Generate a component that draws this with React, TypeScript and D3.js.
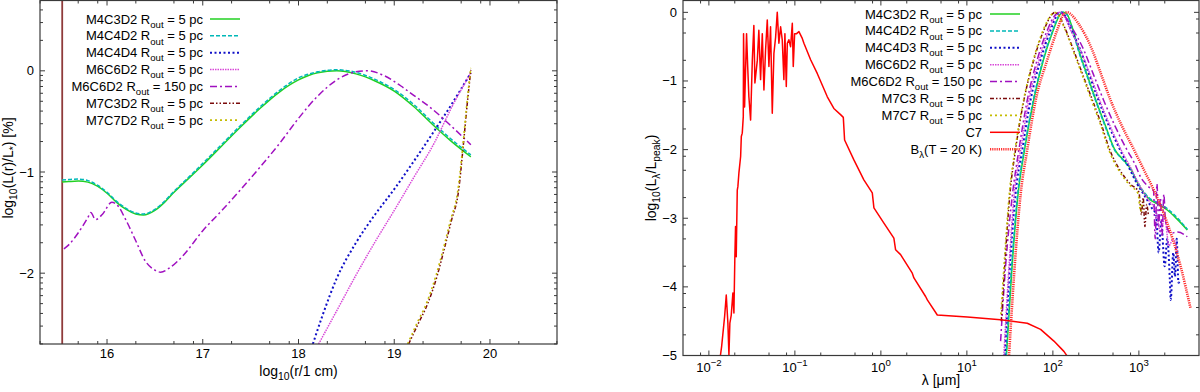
import { useEffect, useRef } from "react"
import * as d3 from "d3"

type Pt = [number, number]

// ---------- left panel: [log10(r/1 cm), log10(L(r)/L*)] ----------
const leftInnerEdge: Pt[] = [[15.532, -2.7], [15.532, 0.7]]

const leftM4C3D2: Pt[] = [
  [15.53, -1.1], [15.6, -1.095], [15.7, -1.09], [15.8, -1.1], [15.9, -1.14], [16.0, -1.21],
  [16.1, -1.3], [16.2, -1.37], [16.3, -1.415], [16.38, -1.425], [16.5, -1.38], [16.6, -1.3],
  [16.7, -1.2], [16.8, -1.11], [17.0, -0.93], [17.2, -0.74], [17.4, -0.55], [17.6, -0.37],
  [17.8, -0.21], [18.0, -0.09], [18.2, -0.02], [18.4, 0.0], [18.6, -0.03], [18.8, -0.1],
  [19.0, -0.2], [19.2, -0.35], [19.4, -0.53], [19.6, -0.7], [19.8, -0.85],
]
const leftM4C4D2: Pt[] = [
  [15.53, -1.08], [15.6, -1.075], [15.7, -1.07], [15.8, -1.085], [15.9, -1.13], [16.0, -1.2],
  [16.1, -1.29], [16.2, -1.36], [16.3, -1.405], [16.38, -1.415], [16.5, -1.37], [16.6, -1.29],
  [16.7, -1.19], [16.8, -1.1], [17.0, -0.915], [17.2, -0.725], [17.4, -0.535], [17.6, -0.355],
  [17.8, -0.195], [18.0, -0.07], [18.2, -0.01], [18.4, 0.01], [18.6, -0.015], [18.8, -0.085],
  [19.0, -0.185], [19.2, -0.33], [19.4, -0.51], [19.6, -0.68], [19.8, -0.83],
]
const leftM4C4D4: Pt[] = [
  [18.15, -2.7], [18.25, -2.42], [18.4, -2.05], [18.6, -1.7], [18.8, -1.42], [19.0, -1.17],
  [19.2, -0.9], [19.4, -0.62], [19.6, -0.33], [19.8, -0.02],
]
const leftM6C6D2: Pt[] = [
  [18.21, -2.7], [18.4, -2.37], [18.6, -2.02], [18.8, -1.69], [19.0, -1.38], [19.2, -1.06],
  [19.42, -0.71], [19.6, -0.36], [19.8, -0.02],
]
const leftM6C6D2far: Pt[] = [
  [15.55, -1.76], [15.6, -1.72], [15.7, -1.6], [15.8, -1.45], [15.83, -1.4], [15.88, -1.47],
  [15.95, -1.42], [16.05, -1.3], [16.1, -1.32], [16.2, -1.48], [16.3, -1.68], [16.4, -1.88],
  [16.5, -1.97], [16.56, -1.99], [16.65, -1.95], [16.8, -1.82], [17.0, -1.58], [17.2, -1.38],
  [17.4, -1.17], [17.6, -0.95], [17.8, -0.72], [18.0, -0.47], [18.2, -0.25], [18.4, -0.09],
  [18.6, -0.01], [18.72, 0.0], [18.9, -0.05], [19.07, -0.15], [19.2, -0.24], [19.4, -0.38],
  [19.6, -0.55], [19.8, -0.73],
]
const leftM7C3D2: Pt[] = [
  [19.15, -2.7], [19.25, -2.5], [19.35, -2.3], [19.45, -2.02], [19.52, -1.77], [19.6, -1.47],
  [19.67, -1.2], [19.72, -0.75], [19.76, -0.35], [19.8, 0.01],
]
const leftM7C7D2: Pt[] = [
  [19.14, -2.7], [19.24, -2.49], [19.34, -2.29], [19.44, -2.01], [19.51, -1.77], [19.59, -1.47],
  [19.66, -1.21], [19.715, -0.76], [19.755, -0.36], [19.8, 0.03],
]

// ---------- right panel: [log10(λ/µm), log10(Lλ/Lpeak)] ----------
const rightM4C3D2: Pt[] = [
  [1.46, -5.0], [1.52, -3.8], [1.595, -2.65], [1.671, -2.0], [1.776, -1.28], [1.89, -0.69],
  [2.004, -0.26], [2.09, -0.02], [2.12, 0.0], [2.16, -0.02], [2.22, -0.2], [2.3, -0.55],
  [2.4, -0.92], [2.5, -1.28], [2.61, -1.65], [2.72, -2.0], [2.82, -2.15], [2.9, -2.27],
  [3.0, -2.52], [3.12, -2.72], [3.23, -2.8], [3.33, -2.88], [3.45, -3.02], [3.563, -3.17],
]
const rightM4C4D2: Pt[] = [
  [1.455, -5.0], [1.515, -3.8], [1.59, -2.65], [1.667, -2.0], [1.772, -1.28], [1.886, -0.69],
  [2.0, -0.26], [2.085, -0.02], [2.115, 0.0], [2.155, -0.02], [2.215, -0.2], [2.295, -0.55],
  [2.395, -0.92], [2.495, -1.28], [2.605, -1.65], [2.715, -2.0], [2.815, -2.15], [2.895, -2.27],
  [2.995, -2.5], [3.115, -2.7], [3.225, -2.78], [3.33, -2.86], [3.45, -3.0], [3.563, -3.16],
]
const rightM4C4D3: Pt[] = [
  [1.44, -5.0], [1.5, -3.7], [1.565, -2.65], [1.644, -2.0], [1.74, -1.28], [1.857, -0.69],
  [1.973, -0.26], [2.06, -0.02], [2.09, 0.0], [2.13, -0.03], [2.2, -0.22], [2.32, -0.55],
  [2.42, -0.9], [2.53, -1.28], [2.65, -1.65], [2.78, -2.0], [2.88, -2.25], [2.98, -2.5],
  [3.08, -2.7], [3.15, -2.85], [3.2, -2.95], [3.23, -3.5], [3.26, -3.05], [3.3, -3.7],
  [3.33, -3.3], [3.36, -3.9], [3.37, -4.19], [3.4, -3.5], [3.42, -3.85], [3.44, -3.3],
  [3.46, -3.94], [3.48, -3.9],
]
const rightM6C6D2: Pt[] = [
  [1.43, -5.0], [1.49, -3.7], [1.55, -2.65], [1.625, -2.0], [1.72, -1.28], [1.84, -0.69],
  [1.955, -0.26], [2.05, -0.02], [2.08, 0.0], [2.12, -0.03], [2.2, -0.24], [2.33, -0.58],
  [2.44, -0.93], [2.55, -1.3], [2.67, -1.67], [2.8, -2.02], [2.92, -2.3], [3.02, -2.55],
  [3.12, -2.75], [3.2, -2.9], [3.25, -3.2], [3.3, -3.0], [3.35, -3.4], [3.4, -3.3], [3.45, -3.5],
]
const rightM6C6D2far: Pt[] = [
  [1.392, -4.79], [1.45, -3.7], [1.53, -2.65], [1.605, -2.0], [1.702, -1.28], [1.818, -0.69],
  [1.935, -0.26], [2.04, -0.02], [2.07, 0.0], [2.12, -0.03], [2.22, -0.22], [2.36, -0.55],
  [2.47, -0.9], [2.59, -1.28], [2.72, -1.65], [2.86, -2.0], [2.95, -2.2], [3.02, -2.4],
  [3.12, -2.55], [3.17, -2.6], [3.19, -3.3], [3.21, -2.5], [3.23, -3.1], [3.25, -2.7],
  [3.27, -3.25], [3.29, -2.65], [3.31, -3.05], [3.37, -3.22], [3.45, -3.2], [3.563, -3.27],
]
const rightM7C3: Pt[] = [
  [1.4, -4.5], [1.45, -3.5], [1.5, -2.65], [1.566, -2.0], [1.663, -1.28], [1.779, -0.69],
  [1.895, -0.26], [1.99, -0.03], [2.02, 0.0], [2.06, -0.03], [2.13, -0.2], [2.24, -0.55],
  [2.36, -0.95], [2.46, -1.28], [2.56, -1.62], [2.66, -2.0], [2.78, -2.3], [2.9, -2.5],
  [3.0, -2.62], [3.03, -2.95], [3.05, -2.7], [3.07, -3.12], [3.09, -2.8], [3.11, -2.95],
]
const rightM7C7: Pt[] = [
  [1.395, -4.4], [1.445, -3.45], [1.495, -2.62], [1.562, -1.98], [1.66, -1.27], [1.775, -0.68],
  [1.89, -0.25], [1.985, -0.03], [2.015, 0.0], [2.055, -0.03], [2.125, -0.2], [2.235, -0.56],
  [2.355, -0.96], [2.455, -1.3], [2.555, -1.64], [2.655, -2.02], [2.775, -2.32], [2.895, -2.52],
  [2.99, -2.64], [3.02, -2.9], [3.04, -2.75],
]
const rightC7: Pt[] = [
  [-1.866, -5.0], [-1.852, -4.87], [-1.817, -4.43], [-1.798, -4.12], [-1.779, -4.53], [-1.767, -5.0],
  [-1.756, -4.53], [-1.74, -4.41], [-1.721, -4.09], [-1.709, -4.38], [-1.698, -3.56], [-1.69, -3.12],
  [-1.682, -3.56], [-1.67, -2.59], [-1.663, -2.54], [-1.651, -2.34], [-1.631, -2.1], [-1.623, -1.81],
  [-1.612, -1.76], [-1.6, -1.52], [-1.597, -0.31], [-1.585, -1.38], [-1.562, -0.31], [-1.55, -0.75],
  [-1.535, -1.23], [-1.515, -1.57], [-1.495, -0.7], [-1.477, -0.19], [-1.465, -1.03], [-1.437, -0.7],
  [-1.419, -0.26], [-1.399, -0.98], [-1.379, -0.31], [-1.36, -1.13], [-1.341, -0.55], [-1.321, -0.11],
  [-1.302, -0.79], [-1.283, -0.21], [-1.263, -1.47], [-1.244, -0.6], [-1.224, -0.36], [-1.205, 0.0],
  [-1.186, -0.45], [-1.166, -0.21], [-1.147, -0.4], [-1.128, -0.98], [-1.116, -0.31], [-1.1, -1.08],
  [-1.088, -0.45], [-1.07, -0.4], [-1.05, -0.5], [-1.03, -0.16], [-1.019, -0.79], [-1.003, -0.31],
  [-0.98, -0.31], [-0.953, -0.28], [-0.914, -0.38], [-0.895, -0.45], [-0.817, -0.69], [-0.74, -0.89],
  [-0.623, -1.23], [-0.547, -1.4], [-0.469, -1.49], [-0.437, -1.53], [-0.422, -1.86], [-0.314, -2.15],
  [-0.198, -2.44], [-0.1, -2.63], [-0.081, -2.85], [0.035, -3.07], [0.151, -3.29], [0.171, -3.46],
  [0.229, -3.53], [0.365, -3.8], [0.384, -3.87], [0.52, -4.14], [0.54, -4.19], [0.656, -4.41],
  [1.005, -4.44], [1.392, -4.48], [1.702, -4.53], [1.857, -4.62], [2.012, -4.79], [2.128, -4.94],
  [2.167, -5.01],
]
const rightBlackbody: Pt[] = [
  [1.49, -5.0], [1.55, -3.8], [1.625, -2.65], [1.702, -2.0], [1.8, -1.28], [1.935, -0.69],
  [2.05, -0.26], [2.13, -0.02], [2.167, 0.0], [2.21, -0.03], [2.3, -0.17], [2.458, -0.55],
  [2.56, -0.9], [2.671, -1.28], [2.8, -1.65], [2.942, -2.0], [3.06, -2.3], [3.174, -2.59],
  [3.33, -3.07], [3.485, -3.7], [3.6, -4.31],
]

// tick values
const leftXTicks = [16, 17, 18, 19, 20]
const leftYTicks = [-2, -1, 0]
const rightXTicks = [-2, -1, 0, 1, 2, 3]
const rightYTicks = [-5, -4, -3, -2, -1, 0]

const leftNames = ["M4C3D2", "M4C4D2", "M4C4D4", "M6C6D2", "M6C6D2", "M7C3D2", "M7C7D2"]
const leftRout = ["5", "5", "5", "5", "150", "5", "5"]
const rightNames = ["M4C3D2", "M4C4D2", "M4C4D3", "M6C6D2", "M6C6D2", "M7C3", "M7C7"]
const rightRout = ["5", "5", "5", "5", "150", "5", "5"]

type Style = { stroke: string; dash: string | null; width: number }
const styleList: Style[] = [
  { stroke: "#22d022", dash: null, width: 1.5 },
  { stroke: "#00b8b8", dash: "4,2", width: 1.5 },
  { stroke: "#1010c8", dash: "2,2.5", width: 2 },
  { stroke: "#d848d8", dash: "1.5,1", width: 1.5 },
  { stroke: "#a010c0", dash: "7,3,2,3", width: 1.5 },
  { stroke: "#7a0a0a", dash: "4,2,1.5,2,1.5,2", width: 1.5 },
  { stroke: "#c4bc00", dash: "2,3", width: 1.6 },
]
const c7Style: Style = { stroke: "#ff0000", dash: null, width: 1.5 }
const bbStyle: Style = { stroke: "#ff3030", dash: "1.2,1", width: 2.6 }

const FONT = "'Liberation Sans', Arial, Helvetica, sans-serif"
const FS = 13
const FS_AXIS = 14

type Part = [string, string]

function rich(sel: any, parts: Part[], size: number) {
  let shift = 0
  parts.forEach(([t, kind]) => {
    const target = kind === "sub" ? size * 0.32 : kind === "sup" ? -size * 0.42 : 0
    const ts = sel.append("tspan").text(t).attr("dy", target - shift)
    if (kind) ts.attr("font-size", size * 0.74)
    shift = target
  })
}

function ticks(g: any, box: { l: number; r: number; t: number; b: number }, xMaj: number[], xMin: number[], yMaj: number[], yMin: number[]) {
  const tk = g.append("g").attr("stroke", "#3a3a3a").attr("stroke-width", 1)
  const majL = 5
  const minL = 3
  xMaj.forEach((px) => {
    tk.append("line").attr("x1", px).attr("x2", px).attr("y1", box.b).attr("y2", box.b - majL)
    tk.append("line").attr("x1", px).attr("x2", px).attr("y1", box.t).attr("y2", box.t + majL)
  })
  xMin.forEach((px) => {
    tk.append("line").attr("x1", px).attr("x2", px).attr("y1", box.b).attr("y2", box.b - minL)
    tk.append("line").attr("x1", px).attr("x2", px).attr("y1", box.t).attr("y2", box.t + minL)
  })
  yMaj.forEach((py) => {
    tk.append("line").attr("y1", py).attr("y2", py).attr("x1", box.l).attr("x2", box.l + majL)
    tk.append("line").attr("y1", py).attr("y2", py).attr("x1", box.r).attr("x2", box.r - majL)
  })
  yMin.forEach((py) => {
    tk.append("line").attr("y1", py).attr("y2", py).attr("x1", box.l).attr("x2", box.l + minL)
    tk.append("line").attr("y1", py).attr("y2", py).attr("x1", box.r).attr("x2", box.r - minL)
  })
  g.append("rect")
    .attr("x", box.l).attr("y", box.t)
    .attr("width", box.r - box.l).attr("height", box.b - box.t)
    .attr("fill", "none").attr("stroke", "#3a3a3a").attr("stroke-width", 1.2)
}

function drawPath(g: any, data: Pt[], fx: (v: number) => number, fy: (v: number) => number, st: Style, curve: any) {
  const line = d3.line<Pt>().x((d) => fx(d[0])).y((d) => fy(d[1])).curve(curve)
  const p = g.append("path").datum(data).attr("d", line)
    .attr("fill", "none").attr("stroke", st.stroke).attr("stroke-width", st.width)
    .attr("stroke-linejoin", "round")
  if (st.dash) p.attr("stroke-dasharray", st.dash)
}

function legendLine(g: any, x1: number, x2: number, yy: number, st: Style) {
  const l = g.append("line").attr("x1", x1).attr("x2", x2).attr("y1", yy).attr("y2", yy)
    .attr("stroke", st.stroke).attr("stroke-width", st.width)
  if (st.dash) l.attr("stroke-dasharray", st.dash)
}

const inRange = (v: number, lo: number, hi: number) => v > lo + 1e-6 && v < hi - 1e-6

export default function App() {
  const ref = useRef<SVGSVGElement>(null)

  useEffect(() => {
    if (!ref.current) return
    const svg = d3.select(ref.current)
    svg.selectAll("*").remove()
    svg.attr("font-family", FONT).attr("font-size", FS)

    const defs = svg.append("defs")

    // ================= left panel =================
    const lb = { l: 40, r: 557, t: 0.5, b: 344 }
    const lx = d3.scaleLinear().domain([15.3, 20.7]).range([lb.l, lb.r])
    const ly = d3.scaleLinear().domain([-2.7, 0.7]).range([lb.b, 0])
    defs.append("clipPath").attr("id", "clipL").append("rect")
      .attr("x", lb.l).attr("y", 0).attr("width", lb.r - lb.l).attr("height", lb.b)

    const L = svg.append("g")
    const lxMinor: number[] = []
    for (let n = 15; n <= 20; n++) [2, 5, 8].forEach((k) => {
      const v = n + Math.log10(k)
      if (inRange(v, 15.3, 20.7)) lxMinor.push(lx(v))
    })
    const lyMinor: number[] = []
    for (let n = -3; n <= 0; n++) d3.range(2, 10).forEach((k) => {
      const v = n + Math.log10(k)
      if (inRange(v, -2.7, 0.7)) lyMinor.push(ly(v))
    })

    const lc = L.append("g").attr("clip-path", "url(#clipL)")
    drawPath(lc, leftInnerEdge, lx, ly, { stroke: "#8f3b3b", dash: null, width: 1.8 }, d3.curveLinear)
    const leftSeries = [leftM4C3D2, leftM4C4D2, leftM4C4D4, leftM6C6D2, leftM6C6D2far, leftM7C3D2, leftM7C7D2]
    leftSeries.forEach((s, i) => drawPath(lc, s, lx, ly, styleList[i], d3.curveMonotoneX))

    ticks(L, lb, leftXTicks.map(lx), lxMinor, leftYTicks.map(ly), lyMinor)

    leftXTicks.forEach((v) => {
      L.append("text").attr("x", lx(v)).attr("y", lb.b + 14).attr("text-anchor", "middle").text(String(v))
    })
    leftYTicks.forEach((v) => {
      L.append("text").attr("x", 34).attr("y", ly(v) + 4.5).attr("text-anchor", "end")
        .text(v < 0 ? "\u2212" + Math.abs(v) : String(v))
    })
    rich(L.append("text").attr("x", (lb.l + lb.r) / 2).attr("y", 376).attr("text-anchor", "middle").attr("font-size", FS_AXIS),
      [["log", ""], ["10", "sub"], ["(r/1 cm)", ""]], FS_AXIS)
    rich(L.append("text").attr("transform", "translate(13,168) rotate(-90)").attr("text-anchor", "middle").attr("font-size", FS_AXIS),
      [["log", ""], ["10", "sub"], ["(L(r)/L", ""], ["*", "sub"], [") [%]", ""]], FS_AXIS)

    leftNames.forEach((nm, i) => {
      const yy = 19 + i * 16.85
      rich(L.append("text").attr("x", 203).attr("y", yy + 4.5).attr("text-anchor", "end"),
        [[nm + " R", ""], ["out", "sub"], [" = " + leftRout[i] + " pc", ""]], FS)
      legendLine(L, 210, 240, yy, styleList[i])
    })

    // ================= right panel =================
    const rb = { l: 683, r: 1199, t: 0.5, b: 355.5 }
    const rxs = d3.scaleLog().domain([0.005, 5000]).range([rb.l, rb.r])
    const rx = (lg: number) => rxs(Math.pow(10, lg))
    const ry = d3.scaleLinear().domain([-5, 0.18]).range([rb.b, 0])
    defs.append("clipPath").attr("id", "clipR").append("rect")
      .attr("x", rb.l).attr("y", 0).attr("width", rb.r - rb.l).attr("height", rb.b)

    const R = svg.append("g")
    const rxMinor: number[] = []
    for (let n = -3; n <= 3; n++) [2, 5, 8].forEach((k) => {
      const v = k * Math.pow(10, n)
      if (inRange(v, 0.005, 5000)) rxMinor.push(rxs(v))
    })
    const ryMinor: number[] = []
    for (let n = -6; n <= 0; n++) [2, 5, 8].forEach((k) => {
      const v = n + Math.log10(k)
      if (inRange(v, -5, 0.18)) ryMinor.push(ry(v))
    })

    const rc = R.append("g").attr("clip-path", "url(#clipR)")
    const rightSeries = [rightM4C3D2, rightM4C4D2, rightM4C4D3, rightM6C6D2, rightM6C6D2far, rightM7C3, rightM7C7]
    rightSeries.forEach((s, i) => drawPath(rc, s, rx, ry, styleList[i], d3.curveMonotoneX))
    drawPath(rc, rightC7, rx, ry, c7Style, d3.curveLinear)
    drawPath(rc, rightBlackbody, rx, ry, bbStyle, d3.curveMonotoneX)

    ticks(R, rb, rightXTicks.map(rx), rxMinor, rightYTicks.map(ry), ryMinor)

    rightXTicks.forEach((e) => {
      rich(R.append("text").attr("x", rx(e)).attr("y", rb.b + 16).attr("text-anchor", "middle"),
        [["10", ""], [e < 0 ? "\u2212" + Math.abs(e) : String(e), "sup"]], FS)
    })
    rightYTicks.forEach((v) => {
      R.append("text").attr("x", 677).attr("y", ry(v) + 4.5).attr("text-anchor", "end")
        .text(v < 0 ? "\u2212" + Math.abs(v) : String(v))
    })
    R.append("text").attr("x", (rb.l + rb.r) / 2).attr("y", 385).attr("text-anchor", "middle")
      .attr("font-size", FS_AXIS).text("\u03bb [\u03bcm]")
    rich(R.append("text").attr("transform", "translate(656,178) rotate(-90)").attr("text-anchor", "middle").attr("font-size", FS_AXIS),
      [["log", ""], ["10", "sub"], ["(L", ""], ["\u03bb", "sub"], ["/L", ""], ["peak", "sub"], [")", ""]], FS_AXIS)

    const rightLegendStyles = [...styleList, c7Style, bbStyle]
    rightLegendStyles.forEach((st, i) => {
      const yy = 14 + i * 16.9
      const t = R.append("text").attr("x", 982).attr("y", yy + 4.5).attr("text-anchor", "end")
      if (i < rightNames.length) {
        rich(t, [[rightNames[i] + " R", ""], ["out", "sub"], [" = " + rightRout[i] + " pc", ""]], FS)
      } else if (i === rightNames.length) {
        t.text("C7")
      } else {
        rich(t, [["B", ""], ["\u03bb", "sub"], ["(T = 20 K)", ""]], FS)
      }
      legendLine(R, 990, 1020, yy, st)
    })
  }, [])

  return (
    <svg
      ref={ref}
      width={1200}
      height={392}
      style={{ position: "absolute", left: 0, top: 0, background: "#ffffff", display: "block" }}
    />
  )
}
